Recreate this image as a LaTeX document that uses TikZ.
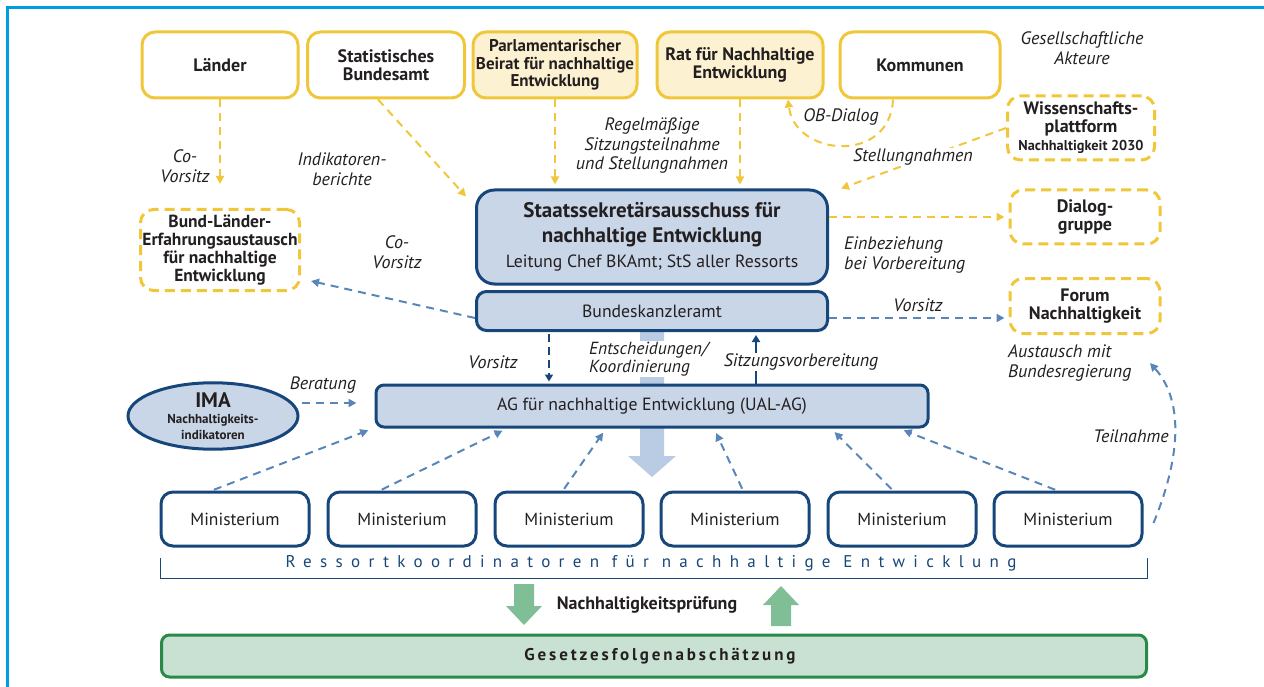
\documentclass[tikz,border=0pt]{standalone}
\usepackage{fontspec}
\setmainfont{PT Sans}
\usetikzlibrary{arrows.meta,shapes.geometric,positioning,calc}
\definecolor{gelb}{RGB}{240,199,58}
\definecolor{gelbhell}{RGB}{252,241,208}
\definecolor{dunkelblau}{RGB}{22,70,122}
\definecolor{mittelblau}{RGB}{88,134,184}
\definecolor{hellblau}{RGB}{201,214,232}
\definecolor{pfeilblau}{RGB}{186,204,228}
\definecolor{gruen}{RGB}{40,138,72}
\definecolor{gruenhell}{RGB}{201,225,211}
\definecolor{gruenpfeil}{RGB}{128,190,150}
\definecolor{rahmen}{RGB}{0,158,224}
\definecolor{schrift}{RGB}{35,31,32}

\begin{document}
\begin{tikzpicture}[x=1pt,y=-1pt,
  akteur/.style={draw=gelb, line width=3pt, rounded corners=13pt, minimum height=66pt, inner sep=1pt, align=center, text=schrift, font=\bfseries\fontsize{18}{18}\selectfont},
  akteurhell/.style={akteur, fill=gelbhell},
  forum/.style={akteur, dash pattern=on 10pt off 6pt},
  gremium/.style={draw=dunkelblau, line width=3pt, fill=hellblau, text=schrift, align=center, font=\fontsize{17.7}{25}\selectfont},
  ministerium/.style={draw=dunkelblau, line width=3pt, rounded corners=12pt, minimum width=148pt, minimum height=54pt, text=schrift, font=\fontsize{17.5}{19}\selectfont},
  beschr/.style={font=\itshape\fontsize{18}{19.5}\selectfont, text=schrift, align=center, inner sep=1pt},
  gelbpfeil/.style={draw=gelb, line width=2pt, dash pattern=on 8pt off 6pt, -{Triangle[length=8pt,width=8pt]}},
  blaupfeil/.style={draw=mittelblau, line width=2pt, dash pattern=on 8pt off 6pt, -{Triangle[length=8pt,width=8pt]}},
  dunkelpfeil/.style={draw=dunkelblau, line width=2pt, -{Triangle[length=7pt,width=8pt]}}]
\useasboundingbox (0,0) rectangle (1264,687);
\draw[rahmen, line width=3pt] (7,687) -- (7,8) -- (1264,8);
\fill[pfeilblau] (640,331) -- (664,331) -- (664,456) -- (676,456) -- (652,477) -- (628,456) -- (640,456) -- cycle;

\node (laender) at (220,65) [akteur, minimum width=156pt] {Länder};
\node (destatis) at (386,65) [akteur, minimum width=157pt] {Statistisches\\Bundesamt};
\node (pbne) at (555,65) [akteurhell, minimum width=164pt, font=\bfseries\fontsize{17}{17.5}\selectfont] {Parlamentarischer\\Beirat für nachhaltige\\Entwicklung};
\node (rne) at (740,65) [akteurhell, minimum width=166pt] {Rat für Nachhaltige\\Entwicklung};
\node (kommunen) at (920,65) [akteur, minimum width=160pt] {Kommunen};
\node (akteure) at (1082,48) [beschr] {Gesellschaftliche\\Akteure};

\node (wpn) at (1081,128) [forum, minimum width=147pt, minimum height=64pt] {Wissenschafts-\\plattform\\{\fontsize{14.3}{14}\selectfont Nachhaltigkeit 2030}};
\node (dialog) at (1085,217) [forum, minimum width=150pt, minimum height=54pt] {Dialog-\\gruppe};
\node (forum) at (1085,306) [forum, minimum width=150pt, minimum height=55pt] {Forum\\Nachhaltigkeit};
\node (bla) at (220,250) [forum, minimum width=159pt, minimum height=81pt, font=\bfseries\fontsize{17.5}{18}\selectfont] {Bund-Länder-\\Erfahrungsaustausch\\für nachhaltige\\Entwicklung};

\node (ssa) at (652,237) [gremium, rounded corners=18pt, minimum width=351pt, minimum height=94pt] {{\bfseries\fontsize{21}{22}\selectfont Staatssekretärsausschuss für}\\{\bfseries\fontsize{21}{22}\selectfont nachhaltige Entwicklung}\\Leitung Chef BKAmt; StS aller Ressorts};
\node (bka) at (652,311) [gremium, rounded corners=10pt, minimum width=351pt, minimum height=39pt] {Bundeskanzleramt};
\node (ag) at (652,406) [gremium, rounded corners=8pt, minimum width=552pt, minimum height=42pt] {AG für nachhaltige Entwicklung (UAL-AG)};
\node (ima) at (213,416) [ellipse, draw=dunkelblau, line width=3pt, fill=hellblau, minimum width=170pt, minimum height=66pt, inner sep=0pt, align=center, text=schrift, font=\bfseries\fontsize{13}{16}\selectfont] {{\fontsize{21}{22}\selectfont IMA}\\Nachhaltigkeits-\\indikatoren};

\foreach \i/\x in {1/235,2/402,3/569,4/735,5/902,6/1068}{
\node (m\i) at (\x,519) [ministerium] {Ministerium};}
\draw[dunkelblau, line width=1pt] (160,558) -- (160,578) -- (1147,578) -- (1147,558);
\node (ressort) at (651,563) [text=dunkelblau, font=\fontsize{17}{19}\selectfont\addfontfeature{LetterSpace=49}] {Ressortkoordinatoren für nachhaltige Entwicklung};

\fill[gruenpfeil] (514,584) -- (534,584) -- (534,606) -- (542,606) -- (524,625) -- (506,606) -- (514,606) -- cycle;
\fill[gruenpfeil] (771,626) -- (791,626) -- (791,605) -- (799,605) -- (781,586) -- (763,605) -- (771,605) -- cycle;
\node (nhp) at (647,605) [text=schrift, font=\bfseries\fontsize{18}{19}\selectfont] {Nachhaltigkeitsprüfung};
\node (gfa) at (654,656) [draw=gruen, line width=3pt, fill=gruenhell, rounded corners=8pt, minimum width=985pt, minimum height=42pt, text=schrift, font=\bfseries\fontsize{17}{19}\selectfont\addfontfeature{LetterSpace=17}] {\hspace*{12pt}Gesetzesfolgenabschätzung};

\draw[gelbpfeil] (laender.south) -- ([yshift=24pt]bla.north);
\node at (185,166) [beschr] {Co-\\Vorsitz};
\draw[gelbpfeil] ([xshift=-8pt]destatis.south) -- ([xshift=-9pt,yshift=-8pt]ssa.north west);
\node at (342,169) [beschr] {Indikatoren-\\berichte};
\draw[gelbpfeil, shorten >=4pt] (pbne.south) -- (pbne.south |- ssa.north);
\draw[gelbpfeil, shorten >=4pt] (rne.south) -- (rne.south |- ssa.north);
\node at (652,146) [beschr] {Regelmäßige\\Sitzungsteilnahme\\und Stellungnahmen};
\draw[gelbpfeil] ([xshift=-27pt]kommunen.south) .. controls +(-3,65) and +(7,57) .. ([xshift=48pt]rne.south);
\node at (841,117) [beschr] {OB-Dialog};
\draw[gelbpfeil] (wpn.west) -- ([xshift=12pt,yshift=0pt]ssa.north east);
\node at (913,157) [beschr, fill=white] {Stellungnahmen};
\draw[gelbpfeil, shorten >=4pt] (ssa.east |- dialog.west) -- (dialog.west);
\node at (843,255) [beschr, anchor=west, align=left] {Einbeziehung\\bei Vorbereitung};

\draw[blaupfeil] ([yshift=-7pt]bka.west) -- ([xshift=10pt,yshift=11pt]bla.south east);
\node at (397,252) [beschr] {Co-\\Vorsitz};
\draw[blaupfeil, shorten >=4pt] ([yshift=-7pt]bka.east) -- ([yshift=-7pt]bka.east -| forum.west);
\node at (918,305) [beschr] {Vorsitz};
\node at (1007,363) [beschr, anchor=west, align=left] {Austausch mit\\Bundesregierung};

\draw[dunkelpfeil, dash pattern=on 8pt off 5pt, shorten <=2pt, shorten >=2pt] ([xshift=-103pt]bka.south) -- ([xshift=-103pt]bka.south |- ag.north);
\node at (493,362) [beschr] {Vorsitz};
\draw[dunkelpfeil, shorten >=3pt] ([xshift=104pt]ag.north) -- ([xshift=104pt]ag.north |- bka.south);
\node at (801,362) [beschr, fill=white] {Sitzungsvorbereitung};
\node at (588,359) [beschr, anchor=west, align=left, fill=white, font=\itshape\fontsize{17.5}{17.5}\selectfont] {Entscheidungen/\\Koordinierung};

\draw[blaupfeil, shorten <=2pt, shorten >=18pt] ([yshift=3pt]ag.west -| ima.east) -- ([yshift=3pt]ag.west);
\node at (323,385) [beschr] {Beratung};
\foreach \i/\a/\b in {1/-23/-279,2/-22/-145,3/-6/-46,4/8/62,5/-9/179,6/-11/247}{
\draw[blaupfeil, shorten <=2pt, shorten >=5pt] ([xshift=\a pt]m\i.north) -- ([xshift=\b pt]ag.south);}
\draw[blaupfeil] ([xshift=10pt,yshift=-4pt]m6.east) .. controls +(26,-63) and +(35,39) .. ([xshift=65pt,yshift=-28pt]forum.south);
\node at (1131,436) [beschr] {Teilnahme};
\end{tikzpicture}
\end{document}
